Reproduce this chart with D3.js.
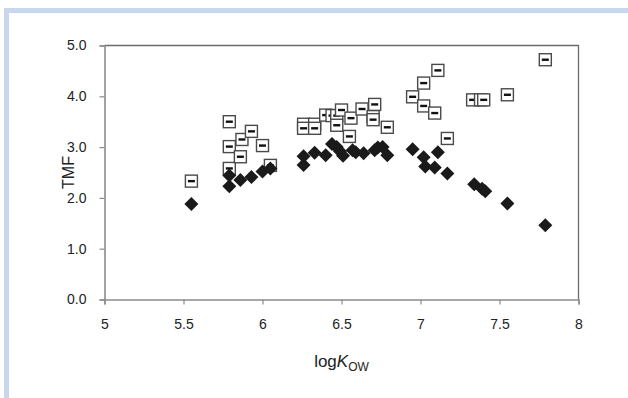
<!DOCTYPE html>
<html><head><meta charset="utf-8">
<script src="https://cdn.jsdelivr.net/npm/d3@7"></script>
<style>body{margin:0;background:#fff}svg{display:block}</style>
</head><body>
<script>
const squareX = [5.55,5.79,5.79,5.79,5.86,5.87,5.93,6.00,6.05,6.26,6.26,6.33,6.33,6.40,6.44,6.47,6.50,6.47,6.56,6.55,6.63,6.71,6.70,6.70,6.79,6.95,7.02,7.02,7.09,7.11,7.17,7.33,7.38,7.40,7.55,7.79];
const squareY = [2.33,3.50,3.01,2.58,2.81,3.15,3.31,3.03,2.64,3.45,3.37,3.45,3.37,3.63,3.62,3.62,3.73,3.43,3.57,3.21,3.75,3.84,3.60,3.54,3.39,3.99,4.26,3.81,3.67,4.51,3.17,3.93,3.93,3.93,4.03,4.72];
const diamondX = [5.55,5.79,5.79,5.86,5.93,6.00,6.05,6.26,6.26,6.33,6.40,6.44,6.47,6.49,6.51,6.57,6.59,6.64,6.71,6.73,6.76,6.79,6.95,7.02,7.03,7.09,7.11,7.17,7.34,7.39,7.41,7.55,7.79];
const diamondY = [1.88,2.44,2.23,2.35,2.41,2.52,2.58,2.82,2.65,2.89,2.84,3.06,3.00,2.92,2.83,2.94,2.90,2.88,2.94,2.99,3.00,2.84,2.96,2.80,2.62,2.60,2.90,2.48,2.27,2.18,2.13,1.89,1.46];
const xTicks = [5,5.5,6,6.5,7,7.5,8];
const yTicks = [0,1,2,3,4,5];

const W=628,H=398;
const svg=d3.select("body").append("svg").attr("width",W).attr("height",H);
// frame
svg.append("rect").attr("x",4).attr("y",8).attr("width",W-4).attr("height",5).attr("fill","#c8d7ed");
svg.append("rect").attr("x",4).attr("y",8).attr("width",5).attr("height",H-8).attr("fill","#c8d7ed");

const L=104.5,R=578.5,T=45.5,B=299.5;
const x=d3.scaleLinear().domain([5,8]).range([L,R]);
const y=d3.scaleLinear().domain([0,5]).range([B,T]);

// plot border top/right
svg.append("path").attr("d",`M${L},${T}H${R}V${B}`).attr("fill","none").attr("stroke","#6b6b6b").attr("stroke-width",1.3);

const font="'Liberation Sans', Arial, sans-serif";
const gx=svg.append("g").attr("transform",`translate(0,${B})`)
  .call(d3.axisBottom(x).tickValues(xTicks).tickSize(5).tickPadding(15).tickFormat(d3.format("")));
const gy=svg.append("g").attr("transform",`translate(${L},0)`)
  .call(d3.axisLeft(y).tickValues(yTicks).tickSize(5).tickPadding(13).tickFormat(d3.format(".1f")));
[gx,gy].forEach(g=>{
  g.select(".domain").attr("stroke","#8c8c8c").attr("stroke-width",1.6);
  g.selectAll(".tick line").attr("stroke","#8c8c8c").attr("stroke-width",1.2);
  g.selectAll(".tick text").attr("fill","#222").attr("font-family",font).attr("font-size",14);
});

// squares
const sq=svg.append("g").selectAll("g").data(squareX.map((v,i)=>[v,squareY[i]])).join("g")
  .attr("transform",d=>`translate(${x(d[0])},${y(d[1])})`);
sq.append("rect").attr("x",-6).attr("y",-6).attr("width",12).attr("height",12)
  .attr("fill","#fff").attr("stroke","#4a4a4a").attr("stroke-width",1.4);
sq.append("rect").attr("x",-3.5).attr("y",-1.2).attr("width",7).attr("height",2.4).attr("fill","#111");

// diamonds
svg.append("g").selectAll("path").data(diamondX.map((v,i)=>[v,diamondY[i]])).join("path")
  .attr("d","M0,-7L7,0L0,7L-7,0Z").attr("fill","#1a1a1a")
  .attr("transform",d=>`translate(${x(d[0])},${y(d[1])})`);

// titles
svg.append("text").attr("transform",`translate(74,${(T+B)/2}) rotate(-90)`).attr("text-anchor","middle")
  .attr("font-family",font).attr("font-size",16).attr("fill","#222").text("TMF");
const xt=svg.append("text").attr("x",(L+R)/2).attr("y",367).attr("text-anchor","middle")
  .attr("font-family",font).attr("font-size",17).attr("fill","#222");
xt.append("tspan").text("log");
xt.append("tspan").attr("font-style","italic").text("K");
xt.append("tspan").attr("font-size",12).attr("dy",4).text("OW");
</script>
</body></html>
